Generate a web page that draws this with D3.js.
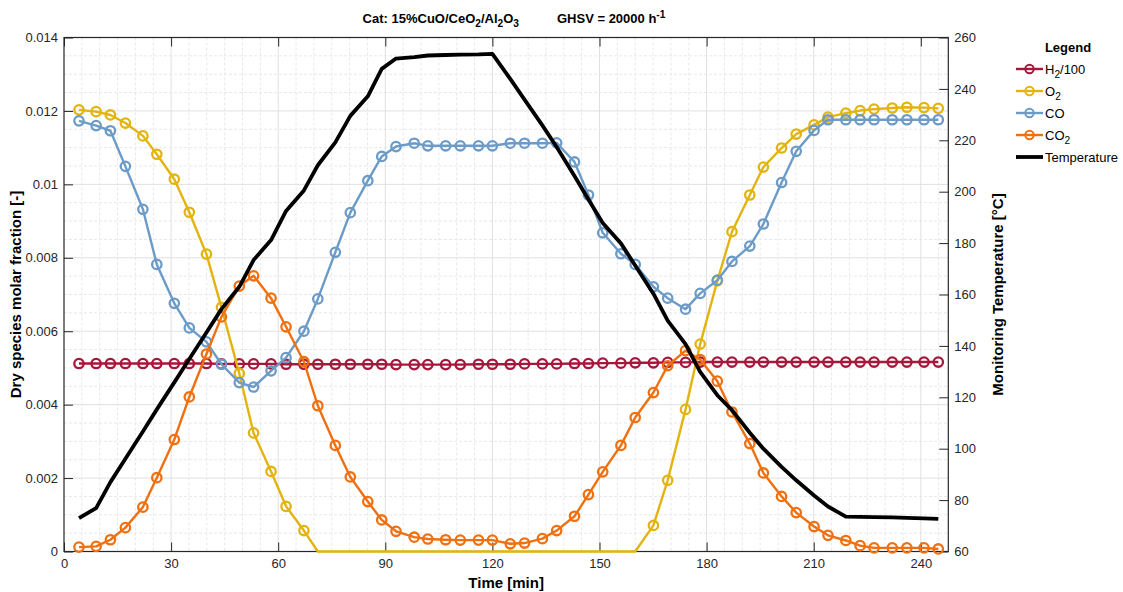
<!DOCTYPE html>
<html>
<head>
<meta charset="utf-8">
<script src="https://cdn.jsdelivr.net/npm/d3@7"></script>
<style>
  body { margin: 0; background: #fff; }
  text { font-family: "Liberation Sans", Arial, sans-serif; }
</style>
</head>
<body>
<div id="chart"></div>
<script>
// sampling times [min]
const timeMin = [4.2, 9.0, 13.0, 17.2, 22.1, 26.0, 30.9, 35.1, 39.9, 44.1, 49.1, 53.1, 58.0, 62.2, 67.2,
  71.1, 76.0, 80.2, 85.1, 89.0, 93.0, 98.1, 101.9, 106.9, 111.0, 116.1, 120.0, 125.0, 129.0, 134.0,
  138.0, 143.0, 146.9, 150.9, 156.0, 160.0, 165.1, 169.1, 174.1, 178.2, 183.0, 187.1, 192.1, 195.9,
  201.0, 205.1, 210.1, 214.0, 219.0, 223.0, 226.9, 232.0, 236.1, 240.9, 244.9];

// dry molar fractions [-]
const h2 = [0.00512, 0.00512, 0.00512, 0.00512, 0.00512, 0.00512, 0.00512, 0.00512, 0.00512, 0.00511,
  0.00511, 0.00511, 0.00511, 0.00510, 0.00510, 0.00510, 0.00510, 0.00510, 0.00510, 0.00510,
  0.00509, 0.00509, 0.00509, 0.00509, 0.00509, 0.00510, 0.00510, 0.00510, 0.00511, 0.00511,
  0.00511, 0.00512, 0.00512, 0.00513, 0.00513, 0.00514, 0.00514, 0.00515, 0.00515, 0.00516,
  0.00516, 0.00516, 0.00516, 0.00516, 0.00516, 0.00516, 0.00516, 0.00516, 0.00516, 0.00516,
  0.00516, 0.00516, 0.00516, 0.00516, 0.00516];

const o2 = [0.01203, 0.01198, 0.01189, 0.01167, 0.01132, 0.01082, 0.01014, 0.00924, 0.00810, 0.00665,
  0.00485, 0.00323, 0.00218, 0.00123, 0.00057, 0, 0, 0, 0, 0,
  0, 0, 0, 0, 0, 0, 0, 0, 0, 0,
  0, 0, 0, 0, 0, 0, 0.00071, 0.00194, 0.00387, 0.00565,
  0.00737, 0.00871, 0.00971, 0.01047, 0.01099, 0.01137, 0.01162, 0.01183, 0.01194, 0.01201,
  0.01205, 0.01208, 0.01210, 0.01209, 0.01207];

const co = [0.01173, 0.01160, 0.01146, 0.01049, 0.00932, 0.00782, 0.00676, 0.00609, 0.00571, 0.00510,
  0.00460, 0.00448, 0.00492, 0.00528, 0.00600, 0.00688, 0.00815, 0.00923, 0.01010, 0.01076,
  0.01103, 0.01112, 0.01105, 0.01105, 0.01105, 0.01105, 0.01105, 0.01112, 0.01112, 0.01112,
  0.01113, 0.01061, 0.00971, 0.00868, 0.00811, 0.00782, 0.00721, 0.00690, 0.00660, 0.00703,
  0.00739, 0.00790, 0.00832, 0.00892, 0.01005, 0.01090, 0.01147, 0.01176, 0.01176, 0.01176,
  0.01176, 0.01176, 0.01176, 0.01176, 0.01176];

const co2 = [0.00012, 0.00014, 0.00032, 0.00065, 0.00121, 0.00201, 0.00305, 0.00421, 0.00538, 0.00639,
  0.00723, 0.00751, 0.00690, 0.00612, 0.00517, 0.00397, 0.00289, 0.00203, 0.00136, 0.00086,
  0.00055, 0.00039, 0.00034, 0.00032, 0.00031, 0.00031, 0.00031, 0.00021, 0.00023, 0.00035,
  0.00057, 0.00096, 0.00155, 0.00217, 0.00289, 0.00365, 0.00433, 0.00506, 0.00547, 0.00523,
  0.00464, 0.00380, 0.00294, 0.00214, 0.00150, 0.00106, 0.00068, 0.00044, 0.00030, 0.00016,
  0.00010, 0.00010, 0.00010, 0.00010, 0.00007];

// monitoring temperature [°C]
const temperature = [73.0, 76.9, 87.0, 96.1, 106.7, 115.3, 125.8, 134.9, 145.2, 154.3,
  163.0, 173.4, 181.2, 192.5, 200.5, 210.3, 219.2, 229.5, 237.1, 247.8,
  251.8, 252.4, 253.0, 253.2, 253.3, 253.4, 253.6, 243.9, 235.8, 225.8,
  217.4, 206.1, 197.0, 187.8, 179.9, 171.3, 160.3, 149.8, 140.7, 129.9,
  120.8, 115.0, 106.2, 100.0, 92.9, 87.7, 81.8, 77.5, 73.6, 73.5,
  73.4, 73.3, 73.1, 72.9, 72.7];

const xTicks = [0, 30, 60, 90, 120, 150, 180, 210, 240];
const yLeftTicks = [0, 0.002, 0.004, 0.006, 0.008, 0.01, 0.012, 0.014];
const yRightTicks = [60, 80, 100, 120, 140, 160, 180, 200, 220, 240, 260];

const series = [
  { name: [["H", null], ["2", "sub"], ["/100", null]], values: h2, color: "#a5173b" },
  { name: [["O", null], ["2", "sub"]], values: o2, color: "#e3b40f" },
  { name: [["CO", null]], values: co, color: "#6c9bc8" },
  { name: [["CO", null], ["2", "sub"]], values: co2, color: "#f07010" }
];

const width = 1123, height = 592;
const plot = { left: 64, right: 948.3, top: 37.5, bottom: 551.5 };

const svg = d3.select("#chart").append("svg")
  .attr("width", width)
  .attr("height", height);

const x = d3.scaleLinear().domain([0, 247.7]).range([plot.left, plot.right]);
const yL = d3.scaleLinear().domain([0, 0.014]).range([plot.bottom, plot.top]);
const yR = d3.scaleLinear().domain([60, 260]).range([plot.bottom, plot.top]);

// write text with sub/superscripts
function rich(sel, parts) {
  let shift = 0;
  parts.forEach(([s, t]) => {
    let target = t === "sub" ? 4 : t === "sup" ? -5 : 0;
    sel.append("tspan")
      .attr("dy", target - shift)
      .attr("font-size", t ? "0.78em" : null)
      .text(s);
    shift = target;
  });
}

// grid
let grid = svg.append("g");
let minorX = d3.range(5, 247.7, 5).filter(v => v % 30 !== 0);
let minorY = d3.range(1, 28).map(i => i * 0.0005).filter((v, i) => (i + 1) % 4 !== 0);

grid.selectAll("line.mx").data(minorX).enter().append("line")
  .attr("x1", d => x(d)).attr("x2", d => x(d))
  .attr("y1", plot.top).attr("y2", plot.bottom)
  .attr("stroke", "#e8e8e8").attr("stroke-dasharray", "3,2");
grid.selectAll("line.my").data(minorY).enter().append("line")
  .attr("x1", plot.left).attr("x2", plot.right)
  .attr("y1", d => yL(d)).attr("y2", d => yL(d))
  .attr("stroke", "#e8e8e8").attr("stroke-dasharray", "3,2");
grid.selectAll("line.gx").data(xTicks.slice(1)).enter().append("line")
  .attr("x1", d => x(d)).attr("x2", d => x(d))
  .attr("y1", plot.top).attr("y2", plot.bottom)
  .attr("stroke", "#e0e0e0");
grid.selectAll("line.gy").data(yLeftTicks.slice(1, -1)).enter().append("line")
  .attr("x1", plot.left).attr("x2", plot.right)
  .attr("y1", d => yL(d)).attr("y2", d => yL(d))
  .attr("stroke", "#e0e0e0");

// axes
let fmt = d => String(+d.toFixed(3));
let axisColor = "#262626";

function styleAxis(g) {
  g.select(".domain").remove();
  g.selectAll(".tick line").attr("stroke", axisColor);
  g.selectAll(".tick text").attr("fill", axisColor).attr("font-size", 13)
    .attr("font-family", "'Liberation Sans', Arial, sans-serif");
}

svg.append("g")
  .attr("transform", `translate(0,${plot.bottom})`)
  .call(d3.axisBottom(x).tickValues(xTicks).tickSize(-9).tickPadding(7))
  .call(styleAxis);
svg.append("g")
  .attr("transform", `translate(0,${plot.top})`)
  .call(d3.axisTop(x).tickValues(xTicks).tickSize(-9).tickFormat(""))
  .call(styleAxis);
svg.append("g")
  .attr("transform", `translate(${plot.left},0)`)
  .call(d3.axisLeft(yL).tickValues(yLeftTicks).tickFormat(fmt).tickSize(-9).tickPadding(6))
  .call(styleAxis);
svg.append("g")
  .attr("transform", `translate(${plot.right},0)`)
  .call(d3.axisRight(yR).tickValues(yRightTicks).tickSize(-9).tickPadding(6))
  .call(styleAxis);

// box
svg.append("rect")
  .attr("x", plot.left).attr("y", plot.top)
  .attr("width", plot.right - plot.left).attr("height", plot.bottom - plot.top)
  .attr("fill", "none").attr("stroke", axisColor).attr("stroke-width", 1.2);

// data
let lineL = d3.line().x((d, i) => x(timeMin[i])).y(d => yL(d));
let lineR = d3.line().x((d, i) => x(timeMin[i])).y(d => yR(d));
let marks = svg.append("g");

series.forEach(s => {
  marks.append("path")
    .attr("d", lineL(s.values))
    .attr("fill", "none")
    .attr("stroke", s.color)
    .attr("stroke-width", 2.4)
    .attr("stroke-linejoin", "round");
  marks.selectAll(null)
    .data(s.values.map((v, i) => ({ t: timeMin[i], v: v })).filter(d => d.v > 0))
    .enter().append("circle")
    .attr("cx", d => x(d.t))
    .attr("cy", d => yL(d.v))
    .attr("r", 4.7)
    .attr("fill", "none")
    .attr("stroke", s.color)
    .attr("stroke-width", 2.3);
});

marks.append("path")
  .attr("d", lineR(temperature))
  .attr("fill", "none")
  .attr("stroke", "#000")
  .attr("stroke-width", 3.8)
  .attr("stroke-linejoin", "round");

// titles and labels
let title = svg.append("text")
  .attr("x", 514)
  .attr("y", 23)
  .attr("text-anchor", "middle")
  .attr("font-size", 13)
  .attr("font-weight", "bold")
  .attr("fill", "#000");
rich(title, [["Cat: 15%CuO/CeO", null], ["2", "sub"], ["/Al", null], ["2", "sub"], ["O", null], ["3", "sub"]]);
title.append("tspan").attr("dx", 38).attr("dy", -4).text("GHSV = 20000 h");
title.append("tspan").attr("dy", -5).attr("font-size", "0.78em").text("-1");

svg.append("text")
  .attr("x", (plot.left + plot.right) / 2)
  .attr("y", 588)
  .attr("text-anchor", "middle")
  .attr("font-size", 15)
  .attr("font-weight", "bold")
  .text("Time [min]");

svg.append("text")
  .attr("transform", `translate(21,${(plot.top + plot.bottom) / 2}) rotate(-90)`)
  .attr("text-anchor", "middle")
  .attr("font-size", 15)
  .attr("font-weight", "bold")
  .text("Dry species molar fraction [-]");

svg.append("text")
  .attr("transform", `translate(1003,${(plot.top + plot.bottom) / 2}) rotate(-90)`)
  .attr("text-anchor", "middle")
  .attr("font-size", 15)
  .attr("font-weight", "bold")
  .text("Monitoring Temperature [°C]");

// legend
let legend = svg.append("g").attr("transform", "translate(1016,0)");
legend.append("text")
  .attr("x", 52).attr("y", 52)
  .attr("text-anchor", "middle")
  .attr("font-size", 13)
  .attr("font-weight", "bold")
  .text("Legend");

let entries = series.map(s => ({ name: s.name, color: s.color, marker: true }))
  .concat([{ name: [["Temperature", null]], color: "#000", marker: false }]);

entries.forEach((e, i) => {
  let g = legend.append("g").attr("transform", `translate(0,${69 + i * 22})`);
  g.append("line")
    .attr("x1", 0).attr("x2", 27)
    .attr("stroke", e.color)
    .attr("stroke-width", e.marker ? 2.4 : 3.8);
  if (e.marker) {
    g.append("circle")
      .attr("cx", 13.5).attr("r", 4.2)
      .attr("fill", "none")
      .attr("stroke", e.color)
      .attr("stroke-width", 2);
  }
  let t = g.append("text")
    .attr("x", 29).attr("y", 5)
    .attr("font-size", 13)
    .attr("fill", "#000");
  rich(t, e.name);
});
</script>
</body>
</html>
